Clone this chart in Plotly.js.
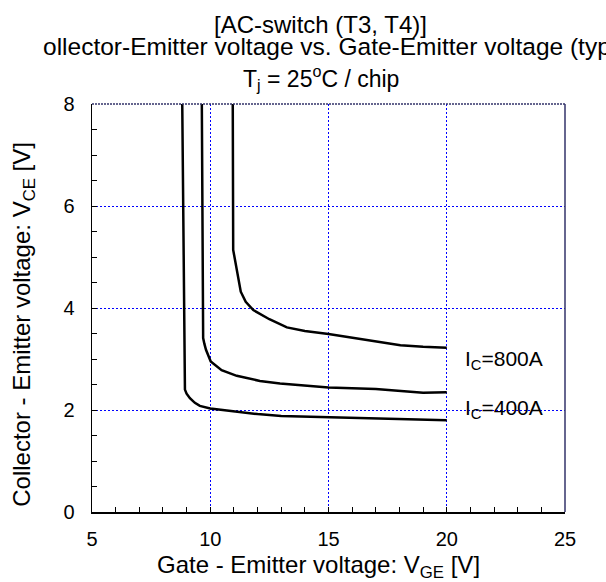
<!DOCTYPE html>
<html>
<head>
<meta charset="utf-8">
<script src="https://cdn.plot.ly/plotly-3.0.1.min.js"></script>
<style>html,body{margin:0;padding:0;background:#fff;}#chart{width:606px;height:582px;}</style>
</head>
<body>
<div id="chart"></div>
<script>
// Curve data
const curveA_x = [8.81, 8.86, 8.90, 8.93, 9.00, 9.14, 9.35, 9.56, 10.0, 11.0, 12.0, 13.0, 15.0, 17.0, 19.0, 20.0];
const curveA_y = [8.30, 6.00, 4.00, 2.40, 2.32, 2.23, 2.14, 2.08, 2.03, 1.97, 1.92, 1.88, 1.86, 1.84, 1.81, 1.80];

const curveB_x = [9.64, 9.66, 9.70, 9.70, 9.75, 9.82, 10.02, 10.48, 11.12, 12.1, 12.95, 15.0, 17.0, 19.0, 20.0];
const curveB_y = [8.30, 6.00, 4.00, 3.41, 3.30, 3.18, 2.95, 2.78, 2.67, 2.57, 2.52, 2.44, 2.41, 2.34, 2.35];

const curveC_x = [10.95, 10.95, 10.97, 11.29, 11.50, 11.82, 12.50, 13.24, 14.0, 15.0, 16.0, 17.0, 18.04, 19.0, 20.0];
const curveC_y = [8.30, 6.00, 5.14, 4.32, 4.12, 3.96, 3.78, 3.62, 3.55, 3.49, 3.42, 3.35, 3.27, 3.24, 3.22];

const labelTexts = ["I<sub>C</sub>=800A", "I<sub>C</sub>=400A"];
const labelX = [20.7, 20.7];
const labelY = [2.98, 2.02];

const titleLines = [
  "[AC-switch (T3, T4)]",
  "ollector-Emitter voltage vs. Gate-Emitter voltage (typ",
  "T<sub>j</sub> = 25<sup>o</sup>C / chip"
];
const xTitle = "Gate - Emitter voltage: V<sub>GE</sub> [V]";
const yTitle = "Collector - Emitter voltage: V<sub>CE</sub> [V]";

const xTicks = [5, 10, 15, 20, 25];
const yTicks = [0, 2, 4, 6, 8];
const xMinor = [6, 7, 8, 9, 11, 12, 13, 14, 16, 17, 18, 19, 21, 22, 23, 24];
const yMinor = [0.5, 1, 1.5, 2.5, 3, 3.5, 4.5, 5, 5.5, 6.5, 7, 7.5];

const FONT = "Liberation Sans, Arial, sans-serif";
const lineStyle = {color: "#000", width: 2.5};

const traces = [
  {x: curveA_x, y: curveA_y, mode: "lines", line: lineStyle, hoverinfo: "skip"},
  {x: curveB_x, y: curveB_y, mode: "lines", line: lineStyle, hoverinfo: "skip"},
  {x: curveC_x, y: curveC_y, mode: "lines", line: lineStyle, hoverinfo: "skip"}
];

function txt(x, y, text, size, opts) {
  return Object.assign({x: x, y: y, xref: "paper", yref: "paper", text: text, showarrow: false,
    xanchor: "center", yanchor: "middle", font: {family: FONT, size: size, color: "#000"}}, opts || {});
}

const annotations = [];
labelTexts.forEach((t, i) => annotations.push({
  x: labelX[i], y: labelY[i], xref: "x", yref: "y", text: t, showarrow: false,
  xanchor: "left", yanchor: "middle", font: {family: FONT, size: 21, color: "#000"}
}));
annotations.push(txt(0.484, 1.196, titleLines[0], 24));
annotations.push(txt(-0.108, 1.140, titleLines[1], 24.5, {xanchor: "left"}));
annotations.push(txt(0.484, 1.064, titleLines[2], 23));
annotations.push(txt(0.478, -0.134, xTitle, 24));
annotations.push(txt(-0.144, 0.461, yTitle, 24, {textangle: -90}));

const gridStyle = {showgrid: true, gridcolor: "#0000ff", gridwidth: 1, griddash: "2px,2px"};

const layout = {
  width: 606, height: 582,
  margin: {l: 92, r: 41, t: 104, b: 70, pad: 0},
  paper_bgcolor: "#fff", plot_bgcolor: "#fff",
  showlegend: false,
  font: {family: FONT, size: 20, color: "#000"},
  xaxis: Object.assign({
    range: [5, 25], tickvals: xTicks, ticktext: xTicks.map(String),
    showline: true, linecolor: "#000", linewidth: 1.5,
    ticks: "inside", ticklen: 5, tickcolor: "#000", tickwidth: 1,
    minor: {tickvals: xMinor, ticks: "inside", ticklen: 5, tickcolor: "#000", showgrid: false},
    ticklabelstandoff: 8,
    zeroline: false, tickfont: {family: FONT, size: 20}, fixedrange: true
  }, gridStyle),
  yaxis: Object.assign({
    range: [0, 8], tickvals: yTicks, ticktext: yTicks.map(String),
    showline: true, linecolor: "#000", linewidth: 1.5,
    ticks: "inside", ticklen: 5, tickcolor: "#000", tickwidth: 1,
    minor: {tickvals: yMinor, ticks: "inside", ticklen: 5, tickcolor: "#000", showgrid: false},
    ticklabelstandoff: 12,
    zeroline: false, tickfont: {family: FONT, size: 20}, fixedrange: true
  }, gridStyle),
  shapes: [
    {type: "line", xref: "paper", yref: "paper", x0: 1, x1: 1, y0: 0, y1: 1, line: {color: "#33336a", width: 1.5}},
    {type: "line", xref: "paper", yref: "paper", x0: 0, x1: 1, y0: 1, y1: 1, line: {color: "#33336a", width: 1.5, dash: "2px,1px"}}
  ],
  annotations: annotations
};

Plotly.newPlot("chart", traces, layout, {staticPlot: true, displayModeBar: false});
</script>
</body>
</html>
